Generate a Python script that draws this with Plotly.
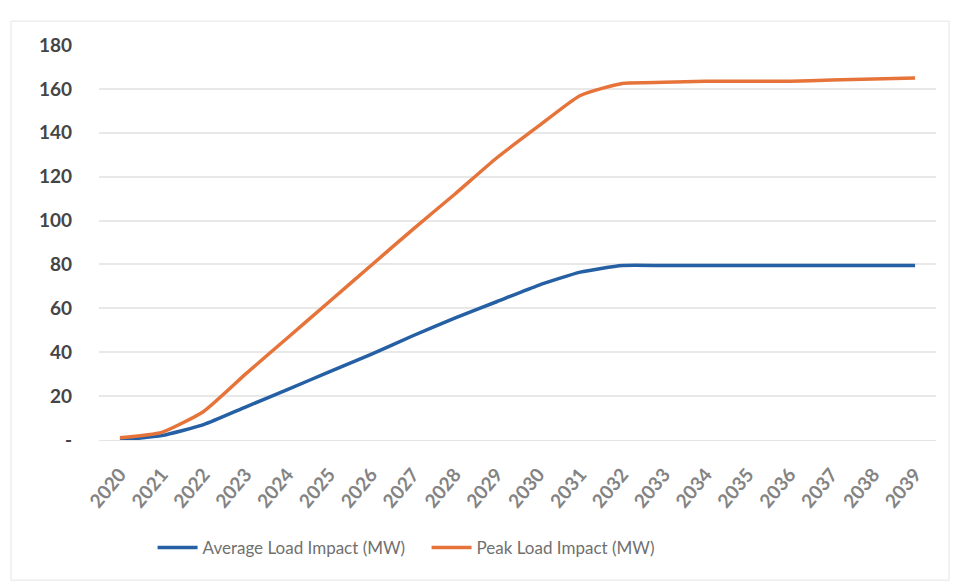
import plotly.graph_objects as go

years = [str(y) for y in range(2020, 2040)]
average_load = [0, 2, 7, 15, 23, 31, 39, 47.5, 55.5, 63, 70.5, 76.5, 79.5, 79.5,
                79.5, 79.5, 79.5, 79.5, 79.5, 79.5]
peak_load = [1, 3.5, 13, 30, 46.5, 63, 79.5, 96, 112, 128.5, 143, 157, 162.5,
             163, 163.5, 163.5, 163.5, 164, 164.5, 165]
y_tick_vals = [0, 20, 40, 60, 80, 100, 120, 140, 160, 180]
y_tick_text = ["-", "20", "40", "60", "80", "100", "120", "140", "160", "180"]

FONT = "Lato"

fig = go.Figure()
fig.add_trace(go.Scatter(
    x=years, y=average_load, mode="lines", name="Average Load Impact (MW)",
    line=dict(color="#2660a4", width=3.5, shape="spline", smoothing=0.5),
))
fig.add_trace(go.Scatter(
    x=years, y=peak_load, mode="lines", name="Peak Load Impact (MW)",
    line=dict(color="#e6743a", width=3.5, shape="spline", smoothing=0.5),
))

fig.update_layout(
    width=955, height=583,
    margin=dict(l=99, r=19, t=45, b=143),
    paper_bgcolor="white", plot_bgcolor="white",
    showlegend=True,
    legend=dict(
        orientation="h", x=0.064, xanchor="left", y=-0.273, yanchor="middle",
        font=dict(family=FONT, size=17, color="#707070"),
        entrywidth=219, entrywidthmode="pixels", itemwidth=40,
    ),
    xaxis=dict(
        type="category", range=[-0.5, 19.5],
        tickangle=-50, showgrid=False, showline=True, linecolor="#e4e4e4",
        tickfont=dict(family=FONT, size=19, color="#838383", weight="bold"),
        ticklabelstandoff=15, fixedrange=True,
    ),
    yaxis=dict(
        range=[0, 180], tickvals=y_tick_vals, ticktext=y_tick_text,
        showgrid=True, gridcolor="#e8e8e8", gridwidth=1.5, zeroline=False,
        tickfont=dict(family=FONT, size=19, color="#454545", weight="bold"),
        ticklabelstandoff=26, fixedrange=True,
    ),
    shapes=[dict(
        type="rect", xref="paper", yref="paper",
        x0=-0.105, x1=1.0155, y0=-0.355, y1=1.06,
        line=dict(color="#eeeeee", width=1.5), layer="below",
    )],
)

fig.write_html("out.html")
